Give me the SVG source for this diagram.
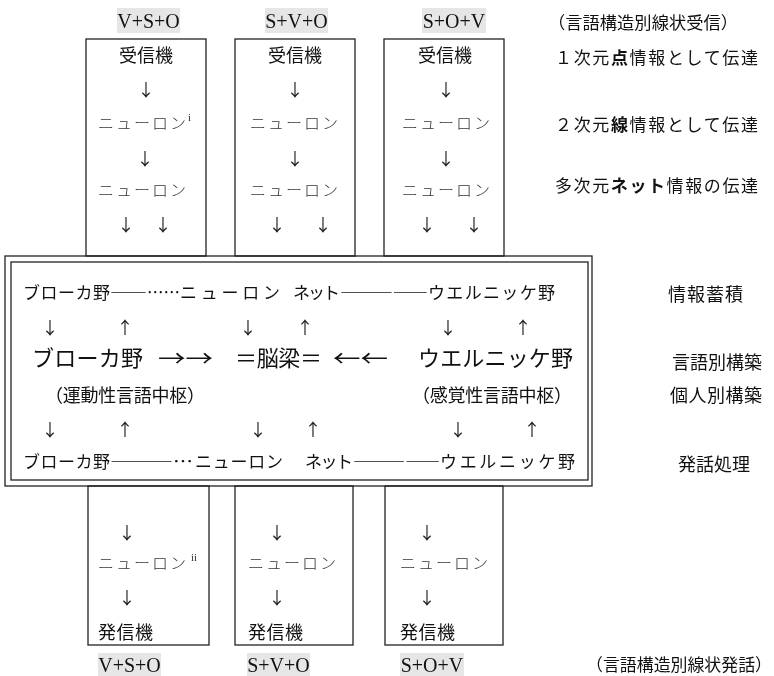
<svg xmlns="http://www.w3.org/2000/svg" width="774" height="676" viewBox="0 0 774 676">
<defs>
  <filter id="gray" x="0" y="0" width="774" height="676" filterUnits="userSpaceOnUse">
    <feColorMatrix type="saturate" values="0"/>
  </filter>
</defs>
<style>
  .box{fill:none;stroke:#222;stroke-width:1.3}
  .bg{fill:#e6e6e6}
  .lbl{font-family:"Liberation Serif","Times New Roman",serif;font-size:20px;fill:#111;text-anchor:middle}
  text{font-family:"Noto Sans CJK JP","Noto Sans",sans-serif;fill:#111}
  .t17{font-size:17px}
  .t18{font-size:18px}
  .t22{font-size:22px}
  .neu{font-size:16px;font-weight:300;fill:#333}
  .arr{font-family:"Noto Sans CJK JP",sans-serif;font-size:17px;font-weight:normal;text-anchor:middle;fill:#222}
  .mid{text-anchor:middle}
  .sup{font-family:"Liberation Serif",serif;font-size:11px;fill:#333}
  .b{font-weight:bold}
</style>
<rect x="0" y="0" width="774" height="676" fill="#ffffff"/>
<g id="diagram" filter="url(#gray)">
<rect x="0" y="0" width="774" height="676" fill="#ffffff"/>

<!-- top sentence-structure labels -->
<g id="label-top">
  <rect class="bg" x="117" y="8" width="63" height="25"/>
  <text class="lbl" x="148.5" y="28">V+S+O</text>
  <rect class="bg" x="265" y="8" width="63" height="25"/>
  <text class="lbl" x="296.5" y="28">S+V+O</text>
  <rect class="bg" x="422" y="8" width="64" height="25"/>
  <text class="lbl" x="454" y="28">S+O+V</text>
</g>

<!-- right-side annotations -->
<g id="notes-right">
  <text class="t17" x="548" y="29" textLength="190" lengthAdjust="spacingAndGlyphs">（言語構造別線状受信）</text>
  <text class="t17" x="555" y="64" textLength="203" lengthAdjust="spacing">１次元<tspan class="b">点</tspan>情報として伝達</text>
  <text class="t17" x="555" y="131" textLength="203" lengthAdjust="spacing">２次元<tspan class="b">線</tspan>情報として伝達</text>
  <text class="t17" x="555" y="192" textLength="203" lengthAdjust="spacing">多次元<tspan class="b">ネット</tspan>情報の伝達</text>
  <text class="t18" x="668" y="301" textLength="75" lengthAdjust="spacing">情報蓄積</text>
  <text class="t18" x="672" y="369" textLength="90" lengthAdjust="spacing">言語別構築</text>
  <text class="t18" x="670" y="402" textLength="92" lengthAdjust="spacing">個人別構築</text>
  <text class="t18" x="678" y="471" textLength="72" lengthAdjust="spacing">発話処理</text>
  <text class="t17" x="586" y="671" textLength="186" lengthAdjust="spacingAndGlyphs">（言語構造別線状発話）</text>
</g>

<!-- receiver boxes -->
<g id="recv-1">
  <rect class="box" x="86" y="39" width="120" height="217"/>
  <text class="t18 mid" x="146" y="62">受信機</text>
  <text class="neu" x="98" y="129" textLength="88" lengthAdjust="spacing">ニューロン</text>
  <text class="sup" x="188" y="121">i</text>
  <text class="neu" x="98" y="196" textLength="88" lengthAdjust="spacing">ニューロン</text>
</g>
<g id="recv-2">
  <rect class="box" x="235" y="39" width="120" height="217"/>
  <text class="t18 mid" x="295" y="62">受信機</text>
  <text class="neu" x="250" y="129" textLength="88" lengthAdjust="spacing">ニューロン</text>
  <text class="neu" x="250" y="196" textLength="88" lengthAdjust="spacing">ニューロン</text>
</g>
<g id="recv-3">
  <rect class="box" x="384" y="39" width="120" height="217"/>
  <text class="t18 mid" x="445" y="62">受信機</text>
  <text class="neu" x="402" y="129" textLength="88" lengthAdjust="spacing">ニューロン</text>
  <text class="neu" x="402" y="196" textLength="88" lengthAdjust="spacing">ニューロン</text>
</g>

<!-- central double-framed box -->
<g id="brain">
  <rect class="box" x="5" y="256" width="587" height="230"/>
  <rect class="box" x="11" y="262" width="577" height="218"/>
  <!-- row 1 -->
  <text class="t17" x="23" y="299" textLength="87" lengthAdjust="spacing">ブローカ野</text>
  <text class="t17" x="110" y="299" textLength="37" lengthAdjust="spacingAndGlyphs">――</text>
  <text class="t17" x="147" y="299" textLength="33" lengthAdjust="spacingAndGlyphs">……</text>
  <text class="t17" x="180" y="299" textLength="100" lengthAdjust="spacing">ニューロン</text>
  <text class="t17" x="293" y="299" textLength="47" lengthAdjust="spacing">ネット</text>
  <text class="t17" x="340" y="299" textLength="88" lengthAdjust="spacingAndGlyphs">―――――</text>
  <text class="t17" x="428" y="299" textLength="127" lengthAdjust="spacing">ウエルニッケ野</text>
  <!-- row 3 -->
  <text class="t22" x="32" y="366" textLength="111" lengthAdjust="spacing">ブローカ野</text>
  <text class="t22" x="235" y="366" textLength="87" lengthAdjust="spacing">＝脳梁＝</text>
  <text class="t22" x="418" y="366" textLength="155" lengthAdjust="spacing">ウエルニッケ野</text>
  <!-- row 4 -->
  <text class="t18" x="45" y="402" textLength="160" lengthAdjust="spacing">（運動性言語中枢）</text>
  <text class="t18" x="412" y="402" textLength="160" lengthAdjust="spacing">（感覚性言語中枢）</text>
  <!-- row 6 -->
  <text class="t17" x="23" y="468" textLength="87" lengthAdjust="spacing">ブローカ野</text>
  <text class="t17" x="110" y="468" textLength="63" lengthAdjust="spacingAndGlyphs">―――</text>
  <text class="t17" x="173" y="468" textLength="20" lengthAdjust="spacingAndGlyphs">…</text>
  <text class="t17" x="195" y="468" textLength="88" lengthAdjust="spacing">ニューロン</text>
  <text class="t17" x="305" y="468" textLength="48" lengthAdjust="spacing">ネット</text>
  <text class="t17" x="353" y="468" textLength="87" lengthAdjust="spacingAndGlyphs">―――――</text>
  <text class="t17" x="440" y="468" textLength="135" lengthAdjust="spacing">ウエルニッケ野</text>
</g>

<!-- sender boxes -->
<g id="send-1">
  <rect class="box" x="88" y="486" width="121" height="159"/>
  <text class="neu" x="98" y="569" textLength="88" lengthAdjust="spacing">ニューロン</text>
  <text class="sup" x="191" y="561">ii</text>
  <text class="t18" x="98" y="639" textLength="55" lengthAdjust="spacing">発信機</text>
</g>
<g id="send-2">
  <rect class="box" x="235" y="486" width="118" height="159"/>
  <text class="neu" x="248" y="569" textLength="88" lengthAdjust="spacing">ニューロン</text>
  <text class="t18" x="248" y="639" textLength="55" lengthAdjust="spacing">発信機</text>
</g>
<g id="send-3">
  <rect class="box" x="385" y="486" width="118" height="159"/>
  <text class="neu" x="400" y="569" textLength="88" lengthAdjust="spacing">ニューロン</text>
  <text class="t18" x="400" y="639" textLength="55" lengthAdjust="spacing">発信機</text>
</g>

<!-- bottom sentence-structure labels -->
<g id="label-bottom">
  <rect class="bg" x="98" y="653" width="63" height="23"/>
  <text class="lbl" x="129.5" y="672">V+S+O</text>
  <rect class="bg" x="247" y="653" width="63" height="23"/>
  <text class="lbl" x="278.5" y="672">S+V+O</text>
  <rect class="bg" x="400" y="653" width="64" height="23"/>
  <text class="lbl" x="432" y="672">S+O+V</text>
</g>

<!-- connectors (arrow glyphs) -->
<g id="connectors">
  <text class="arr" x="146" y="96">↓</text>
  <text class="arr" x="295" y="96">↓</text>
  <text class="arr" x="446" y="96">↓</text>
  <text class="arr" x="145" y="165">↓</text>
  <text class="arr" x="295" y="165">↓</text>
  <text class="arr" x="446" y="165">↓</text>
  <text class="arr" x="126" y="231">↓</text>
  <text class="arr" x="163" y="231">↓</text>
  <text class="arr" x="277" y="231">↓</text>
  <text class="arr" x="323" y="231">↓</text>
  <text class="arr" x="427" y="231">↓</text>
  <text class="arr" x="474" y="231">↓</text>

  <text class="arr" x="50" y="334">↓</text>
  <text class="arr" x="125" y="334">↑</text>
  <text class="arr" x="248" y="334">↓</text>
  <text class="arr" x="305" y="334">↑</text>
  <text class="arr" x="448" y="334">↓</text>
  <text class="arr" x="523" y="334">↑</text>

  <text class="t22" x="158" y="366" textLength="55" lengthAdjust="spacingAndGlyphs">→→</text>
  <text class="t22" x="333" y="366" textLength="55" lengthAdjust="spacingAndGlyphs">←←</text>

  <text class="arr" x="50" y="436">↓</text>
  <text class="arr" x="125" y="436">↑</text>
  <text class="arr" x="258" y="436">↓</text>
  <text class="arr" x="313" y="436">↑</text>
  <text class="arr" x="458" y="436">↓</text>
  <text class="arr" x="532" y="436">↑</text>

  <text class="arr" x="127" y="539">↓</text>
  <text class="arr" x="277" y="539">↓</text>
  <text class="arr" x="427" y="539">↓</text>
  <text class="arr" x="127" y="604">↓</text>
  <text class="arr" x="277" y="604">↓</text>
  <text class="arr" x="427" y="604">↓</text>
</g>
</g>
</svg>
